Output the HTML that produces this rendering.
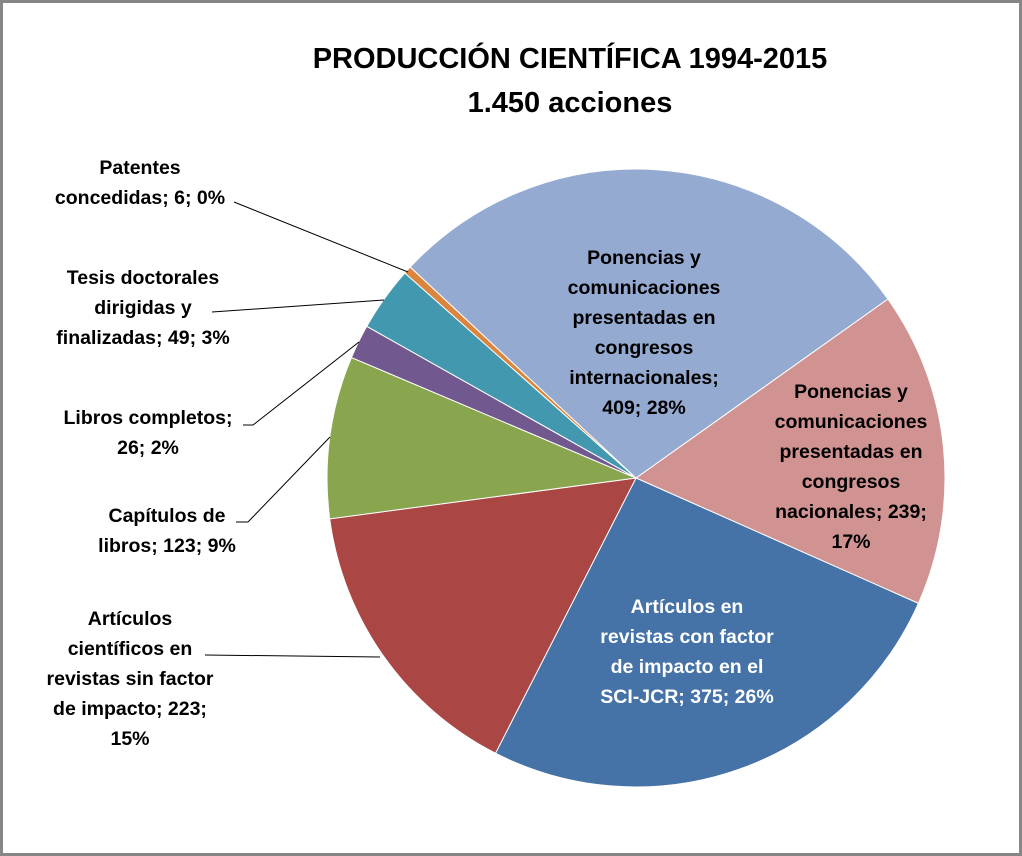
<!DOCTYPE html>
<html><head><meta charset="utf-8"><style>
html,body{margin:0;padding:0;background:#fff}
svg{display:block}
text{font-family:"Liberation Sans",sans-serif;font-weight:bold;fill:#000}
text.w{fill:#fff}
</style></head><body>
<svg id="s" width="1022" height="856" xmlns="http://www.w3.org/2000/svg">
<rect x="1.5" y="1.5" width="1019" height="853" fill="#fff" stroke="#868686" stroke-width="3"/>
<g id="pie"></g>
<text x="570" y="68" font-size="29" text-anchor="middle">PRODUCCIÓN CIENTÍFICA 1994-2015</text>
<text x="570" y="112" font-size="29" text-anchor="middle">1.450 acciones</text>
<g stroke="#000" stroke-width="1" fill="none">
<polyline points="234,202 408,272"/>
<polyline points="212,312 384,300"/>
<polyline points="243,425 253,425 359,342"/>
<polyline points="236,522 248,522 330,437"/>
<polyline points="205,655 380,657"/>
</g>
<g font-size="19.5" text-anchor="middle">
<text x="140" y="174">Patentes</text>
<text x="140" y="204">concedidas; 6; 0%</text>
<text x="143" y="284">Tesis doctorales</text>
<text x="143" y="314">dirigidas y</text>
<text x="143" y="344">finalizadas; 49; 3%</text>
<text x="148" y="424">Libros completos;</text>
<text x="148" y="454">26; 2%</text>
<text x="167" y="522">Capítulos de</text>
<text x="167" y="552">libros; 123; 9%</text>
<text x="130" y="625">Artículos</text>
<text x="130" y="655">científicos en</text>
<text x="130" y="685">revistas sin factor</text>
<text x="130" y="715">de impacto; 223;</text>
<text x="130" y="745">15%</text>
<text x="644" y="264">Ponencias y</text>
<text x="644" y="294">comunicaciones</text>
<text x="644" y="324">presentadas en</text>
<text x="644" y="354">congresos</text>
<text x="644" y="384">internacionales;</text>
<text x="644" y="414">409; 28%</text>
<text x="851" y="398">Ponencias y</text>
<text x="851" y="428">comunicaciones</text>
<text x="851" y="458">presentadas en</text>
<text x="851" y="488">congresos</text>
<text x="851" y="518">nacionales; 239;</text>
<text x="851" y="548">17%</text>
<text class="w" x="687" y="613">Artículos en</text>
<text class="w" x="687" y="643">revistas con factor</text>
<text class="w" x="687" y="673">de impacto en el</text>
<text class="w" x="687" y="703">SCI-JCR; 375; 26%</text>
</g>
</svg>
<script>
var cx=636,cy=478,r=309;
var d=[[239,"#D19392"],[375,"#4572A7"],[223,"#AA4643"],[123,"#89A54E"],[26,"#71588F"],[49,"#4198AF"],[6,"#DB843D"],[409,"#94AAD1"]];
var a=54.6*Math.PI/180,g=document.getElementById("pie"),h="";
function pt(t){return [cx+r*Math.sin(t),cy-r*Math.cos(t)];}
d.forEach(function(s){var b=a+s[0]/1450*2*Math.PI;var p=pt(a),q=pt(b);
h+='<path d="M'+cx+','+cy+' L'+p[0]+','+p[1]+' A'+r+','+r+' 0 '+((b-a)>Math.PI?1:0)+' 1 '+q[0]+','+q[1]+' Z" fill="'+s[1]+'" stroke="#fff" stroke-width="1"/>';a=b;});
g.innerHTML=h;
</script>
</body></html>
